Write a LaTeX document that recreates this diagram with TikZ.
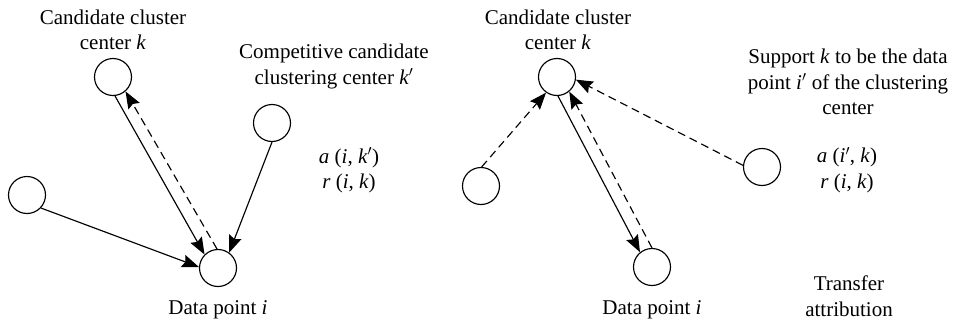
\documentclass[tikz,border=0pt]{standalone}
\usepackage{fontspec}
\setmainfont{Liberation Serif}
\usetikzlibrary{arrows.meta}
\begin{document}
\begin{tikzpicture}[x=1pt,y=-1pt,
  dot/.style={circle,draw,line width=1.15pt,minimum size=37pt,inner sep=0pt},
  lbl/.style={align=center,font=\fontsize{21}{25.5}\selectfont,inner sep=0pt},
  link/.style={line width=1.15pt,-{Stealth[length=17pt,width=13pt,inset=2.5pt]}},
  flow/.style={link,dash pattern=on 8pt off 5pt}]
\useasboundingbox (0,0) rectangle (955,324);

% ---- left panel: responsibility r(i,k)
\node[dot] (K)  at (113,77)  {};
\node[dot] (C)  at (272,123) {};
\node[dot] (L)  at (27,195)  {};
\node[dot] (I)  at (218,268) {};

\node[lbl] (tK) at (113,30)   {Candidate cluster\\center \textit{k}};
\node[lbl] (tC) at (334,66.5) {Competitive candidate\\clustering center \textit{k}$'$};
\node[lbl] (tA) at (349,170.5) {\textit{a} (\textit{i}, \textit{k}$'$)\\\textit{r} (\textit{i}, \textit{k})};
\node[lbl] (tI) at (218,309.5) {Data point \textit{i}};

\draw[link] (K.-84) -- (I.135);
\draw[flow] (I.93)  -- (K.-49);
\draw[link] (L.-43) -- (I.177);
\draw[link] (C.-90) -- (I.54);

% ---- right panel: availability a(i,k)
\node[dot] (K2) at (557,77)  {};
\node[dot] (A)  at (481,186) {};
\node[dot] (B)  at (762,167) {};
\node[dot] (D)  at (652,267) {};

\node[lbl] (tK2) at (558,30)  {Candidate cluster\\center \textit{k}};
\node[lbl] (tS)  at (848,82)  {Support \textit{k} to be the data\\point \textit{i}$'$ of the clustering\\center};
\node[lbl] (tA2) at (847,170) {\textit{a} (\textit{i}$'$, \textit{k})\\\textit{r} (\textit{i}, \textit{k})};
\node[lbl] (tD)  at (652,309.5) {Data point \textit{i}};
\node[lbl] (tT)  at (849,296) {Transfer\\attribution};

\draw[flow] (A.88)   -- (K2.-125);
\draw[link] (K2.-87) -- (D.129);
\draw[flow] (D.90)   -- (K2.-50);
\draw[flow] (B.175)  -- (K2.-8);
\end{tikzpicture}
\end{document}
